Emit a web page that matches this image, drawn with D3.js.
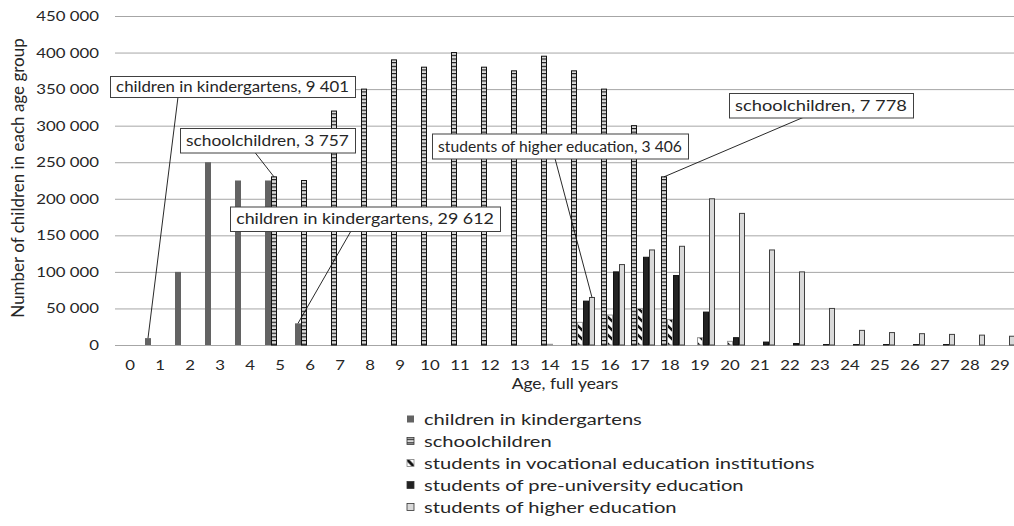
<!DOCTYPE html>
<html><head><meta charset="utf-8">
<script src="https://cdn.jsdelivr.net/npm/d3@7"></script>
<style>
html,body{margin:0;padding:0;background:#fff;}
svg{display:block;}
text{font-family:Lato,"Open Sans",sans-serif;fill:#262626;}
</style></head><body>
<svg id="chart" width="1014" height="526"></svg>
<script>
// ---------- data ----------
const ages = ["0","1","2","3","4","5","6","7","8","9","10","11","12","13","14","15","16","17","18","19","20","21","22","23","24","25","26","27","28","29"];
const seriesNames = ["children in kindergartens","schoolchildren","students in vocational education institutions","students of pre-university education","students of higher education"];
const kindergarten   = [0,9401,100000,250000,225000,225000,29612,0,0,0,0,0,0,0,0,0,0,0,0,0,0,0,0,0,0,0,0,0,0,0];
const schoolchildren = [0,0,0,0,0,230000,225000,320000,350000,390000,380000,400000,380000,375000,395000,375000,350000,300000,230000,0,0,0,0,0,0,0,0,0,0,0];
const vocational     = [0,0,0,0,0,0,0,0,0,0,0,0,0,0,1000,31000,41000,50000,35000,10000,5000,0,0,0,0,0,0,0,0,0];
const preUniversity  = [0,0,0,0,0,0,0,0,0,0,0,0,0,0,0,60000,100000,120000,95000,45000,10000,4000,2000,600,600,600,600,600,0,0];
const higherEdu      = [0,0,0,0,0,0,0,0,0,0,0,0,0,0,0,65000,110000,130000,135000,200000,180000,130000,100000,50000,20000,17000,15500,14500,13500,12000];
const yTicks = [0,50000,100000,150000,200000,250000,300000,350000,400000,450000];
const yTitle = "Number of children in each age group";
const xTitle = "Age, full years";
const annotationLabels  = ["children in kindergartens, 9 401","schoolchildren, 3 757","children in kindergartens, 29 612","students of higher education, 3 406","schoolchildren, 7 778"];
const annotationSeries  = [0,1,0,4,1];
const annotationAges    = ["1","5","6","15","18"];

// ---------- layout / style ----------
const SX = 1.2; // horizontal text stretch for axis text
const boxes = [ // x, y, w, h, leader start x
  [110,76,245,21,178],
  [180,128,175,24.5,255],
  [230,206.5,270,24.5,351],
  [432,133.5,256,25,555],
  [729,93,184,24.5,803]
];
const legendRefWidth = 218;
const svg = d3.select("#chart");
const defs = svg.append("defs");
const ps = defs.append("pattern").attr("id","pSchool").attr("patternUnits","userSpaceOnUse").attr("width",6).attr("height",3.656);
ps.append("rect").attr("width",6).attr("height",3.656).attr("fill","#d9d9d9");
ps.append("rect").attr("width",6).attr("height",1.1).attr("fill","#111");
const pv = defs.append("pattern").attr("id","pVoc").attr("patternUnits","userSpaceOnUse").attr("width",6).attr("height",9);
pv.append("rect").attr("width",6).attr("height",9).attr("fill","#fff");
pv.append("path").attr("d","M-1,-1L7,7").attr("stroke","#111").attr("stroke-width",2.4);
const pvl = defs.append("pattern").attr("id","pVocL").attr("patternUnits","objectBoundingBox").attr("width",1).attr("height",1);
pvl.append("rect").attr("width",7).attr("height",7).attr("fill","#fff");
pvl.append("path").attr("d","M0,0L7,7").attr("stroke","#111").attr("stroke-width",3);

const styles = [
  {fill:"#636363",stroke:"none"},
  {fill:"url(#pSchool)",stroke:"#111"},
  {fill:"url(#pVoc)",stroke:"#999"},
  {fill:"#222222",stroke:"#111"},
  {fill:"#d9d9d9",stroke:"#404040"}
];
const legendFill = ["#636363","url(#pSchool)","url(#pVocL)","#222222","#d9d9d9"];

function stretch(sel, sx){
  sel.each(function(){
    const t=d3.select(this);
    const x=+(t.attr("x")||0);
    t.attr("transform",`translate(${x*(1-sx)},0) scale(${sx},1)`);
  });
}

// ---------- scales ----------
const x = d3.scaleBand().domain(ages).range([115,1015]).padding(0);
const xs = d3.scaleBand().domain(d3.range(seriesNames.length)).range([0,x.bandwidth()]).padding(0);
const y = d3.scaleLinear().domain([0,450000]).range([345,16]);
const loc = d3.formatLocale({decimal:",",thousands:" ",grouping:[3],currency:["",""]});
const fmt = loc.format(",d");

// gridlines
const grid = svg.append("g").attr("transform","translate(115,0)")
  .call(d3.axisLeft(y).tickValues(yTicks).tickSize(-900).tickFormat(""));
grid.select(".domain").remove();
grid.selectAll("line").attr("stroke","#a6a6a6").attr("stroke-width",1);

// y labels
const ya = svg.append("g").attr("transform","translate(115,0)")
  .call(d3.axisLeft(y).tickValues(yTicks).tickSize(0).tickPadding(16).tickFormat(fmt));
ya.select(".domain").remove();
ya.selectAll("text").attr("font-size",14).attr("font-family","Lato").attr("fill","#262626");
stretch(ya.selectAll("text"), SX);

// x labels
const xa = svg.append("g").attr("transform","translate(0,345)")
  .call(d3.axisBottom(x).tickSize(0).tickPadding(15));
xa.select(".domain").remove();
xa.selectAll("text").attr("font-size",14).attr("font-family","Lato").attr("fill","#262626");
stretch(xa.selectAll("text"), SX);

// bars
const allSeries = [kindergarten,schoolchildren,vocational,preUniversity,higherEdu];
allSeries.forEach((vals,i)=>{
  const st = styles[i];
  const data = ages.map((a,j)=>({age:a,v:vals[j]})).filter(d=>d.v>0);
  const inset = st.stroke==="none"?0:0.5;
  svg.append("g").selectAll("rect").data(data).join("rect")
    .attr("x",d=>x(d.age)+xs(i)+inset)
    .attr("y",d=>y(d.v))
    .attr("width",xs.bandwidth()-2*inset)
    .attr("height",d=>y(0)-y(d.v))
    .attr("fill",st.fill)
    .attr("stroke",st.stroke)
    .attr("stroke-width",st.stroke==="none"?0:1);
});

// axis titles
svg.append("text").attr("transform","translate(18,178) rotate(-90)")
  .attr("text-anchor","middle").attr("dy","0.35em").attr("font-size",17).text(yTitle);
const xt = svg.append("text").attr("x",565).attr("y",384).attr("text-anchor","middle")
  .attr("dy","0.35em").attr("font-size",14.5).text(xTitle);
stretch(xt, SX);

// annotations
annotationLabels.forEach((lab,k)=>{
  const [bx,by,bw,bh,ax] = boxes[k];
  const si = annotationSeries[k], age = annotationAges[k];
  const v = allSeries[si][ages.indexOf(age)];
  const tx = x(age)+xs(si)+xs.bandwidth()/2, ty = y(v);
  svg.append("line").attr("x1",ax).attr("y1",by+bh).attr("x2",tx).attr("y2",ty)
    .attr("stroke","#111").attr("stroke-width",0.9);
  svg.append("rect").attr("x",bx+0.5).attr("y",by+0.5).attr("width",bw).attr("height",bh)
    .attr("fill","#fff").attr("stroke","#404040").attr("stroke-width",1);
  const t = svg.append("text").attr("x",bx+bw/2).attr("y",by+bh/2+0.5).attr("dy","0.35em")
    .attr("text-anchor","middle").attr("font-size",15).text(lab);
  const len = t.node().getComputedTextLength();
  stretch(t, (bw-12)/len);
});

// legend
const lg = svg.append("g");
let legendSX = null;
seriesNames.forEach((n,i)=>{
  const cy = 419 + i*22;
  lg.append("rect").attr("x",407).attr("y",cy-3.5).attr("width",7).attr("height",7)
    .attr("fill",legendFill[i]).attr("stroke",i===0?"none":(i===2?"#888":"#333")).attr("stroke-width",0.8);
  const t = lg.append("text").attr("x",424).attr("y",cy).attr("dy","0.35em").attr("font-size",16).text(n);
  if(legendSX===null) legendSX = legendRefWidth / t.node().getComputedTextLength();
  stretch(t, legendSX);
});
</script>
</body></html>
